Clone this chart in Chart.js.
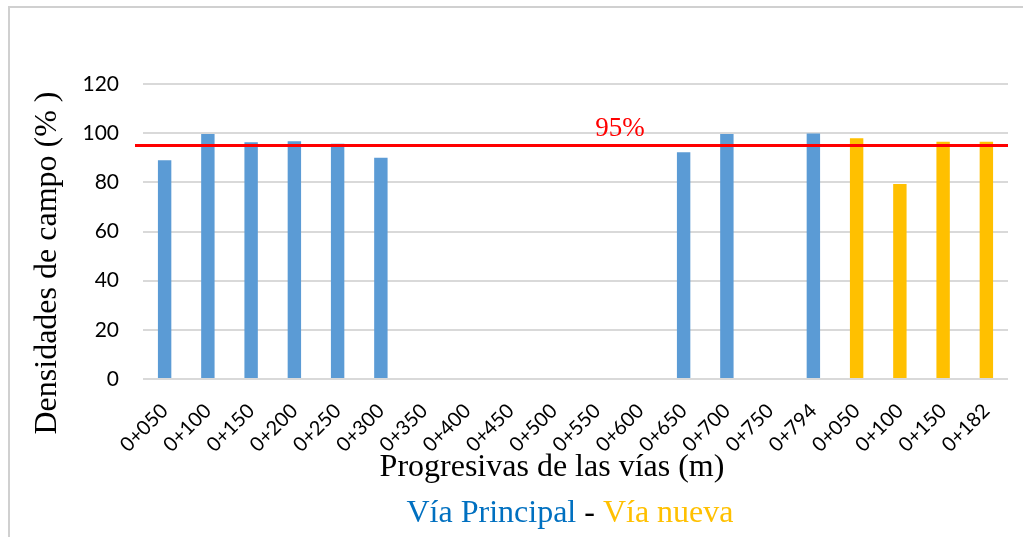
<!DOCTYPE html>
<html>
<head>
<meta charset="utf-8">
<script src="https://cdn.jsdelivr.net/npm/chart.js@4"></script>
<style>
  body { margin: 0; background: #fff; }
</style>
</head>
<body>
<canvas id="densChart" width="1023" height="537"></canvas>
<script>
// ===== DATA =====
const progresivas = ['0+050', '0+100', '0+150', '0+200', '0+250', '0+300', '0+350', '0+400',
  '0+450', '0+500', '0+550', '0+600', '0+650', '0+700', '0+750', '0+794',
  '0+050', '0+100', '0+150', '0+182'];
const viaPrincipal = [89, 99.7, 96.3, 96.7, 95.7, 90, null, null, null, null, null, null,
  92.2, 99.7, null, 99.9, null, null, null, null];
const viaNueva = [null, null, null, null, null, null, null, null, null, null, null, null,
  null, null, null, null, 97.9, 79.3, 96.5, 96.5];
const yTicks = [0, 20, 40, 60, 80, 100, 120];
const limite = 95;

const serif = '"Liberation Serif", "Times New Roman", serif';

// ===== FRAME, TITLES, 95% LINE =====
const extras = {
  id: 'extras',
  beforeDraw(chart) {
    const c = chart.ctx;
    c.save();
    c.fillStyle = '#fff';
    c.fillRect(0, 0, chart.width, chart.height);
    c.strokeStyle = '#d0d0d0';
    c.lineWidth = 2;
    c.beginPath();
    c.moveTo(9, chart.height + 5);
    c.lineTo(9, 7);
    c.lineTo(chart.width + 5, 7);
    c.stroke();
    c.restore();
  },
  afterDatasetsDraw(chart) {
    const c = chart.ctx;
    const area = chart.chartArea;
    const y = chart.scales.y.getPixelForValue(limite);
    c.save();
    c.strokeStyle = '#ff0000';
    c.lineWidth = 3;
    c.beginPath();
    c.moveTo(area.left - 8, y);
    c.lineTo(area.right, y);
    c.stroke();

    c.fillStyle = '#ff0000';
    c.font = '27px ' + serif;
    c.textAlign = 'center';
    c.textBaseline = 'alphabetic';
    c.fillText(limite + '%', 620, y - 9);
    c.restore();
  },
  afterDraw(chart) {
    const c = chart.ctx;
    c.save();
    c.font = '32px ' + serif;
    c.textBaseline = 'alphabetic';

    // y title
    c.save();
    c.translate(56, 263);
    c.rotate(-Math.PI / 2);
    c.textAlign = 'center';
    c.fillStyle = '#000';
    c.fillText('Densidades de campo (% )', 0, 0);
    c.restore();

    // x title
    c.textAlign = 'center';
    c.fillStyle = '#000';
    c.fillText('Progresivas de las vías (m)', 552, 476);

    // series legend line
    const parts = [['Vía Principal', '#0070c0'], [' - ', '#000'], ['Vía nueva', '#ffc000']];
    const total = parts.reduce((s, p) => s + c.measureText(p[0]).width, 0);
    let x = 570 - total / 2;
    c.textAlign = 'left';
    parts.forEach(([txt, col]) => {
      c.fillStyle = col;
      c.fillText(txt, x, 522);
      x += c.measureText(txt).width;
    });
    c.restore();
  }
};

// ===== CHART =====
new Chart(document.getElementById('densChart'), {
  type: 'bar',
  data: {
    labels: progresivas,
    datasets: [
      {
        label: 'Vía Principal',
        data: viaPrincipal,
        backgroundColor: '#5b9bd5',
        barPercentage: 0.31,
        categoryPercentage: 1
      },
      {
        label: 'Vía nueva',
        data: viaNueva,
        backgroundColor: '#ffc000',
        barPercentage: 0.31,
        categoryPercentage: 1
      }
    ]
  },
  options: {
    responsive: false,
    animation: false,
    layout: { padding: { top: 84, right: 15, left: 0, bottom: 0 } },
    plugins: {
      legend: { display: false },
      tooltip: { enabled: false }
    },
    scales: {
      x: {
        stacked: true,
        grid: { display: false },
        border: { display: false },
        ticks: {
          autoSkip: false,
          maxRotation: 45,
          minRotation: 45,
          padding: 12,
          color: '#000',
          font: { family: 'Lato', size: 20 }
        },
        afterFit(s) { s.height = 158; }
      },
      y: {
        min: 0,
        max: 120,
        afterBuildTicks(s) { s.ticks = yTicks.map(v => ({ value: v })); },
        grid: { color: '#d9d9d9', lineWidth: 2, drawTicks: false },
        border: { display: false },
        ticks: {
          padding: 24,
          color: '#000',
          font: { family: 'Lato', size: 21 }
        },
        afterFit(s) { s.width = 143; }
      }
    }
  },
  plugins: [extras]
});
</script>
</body>
</html>
